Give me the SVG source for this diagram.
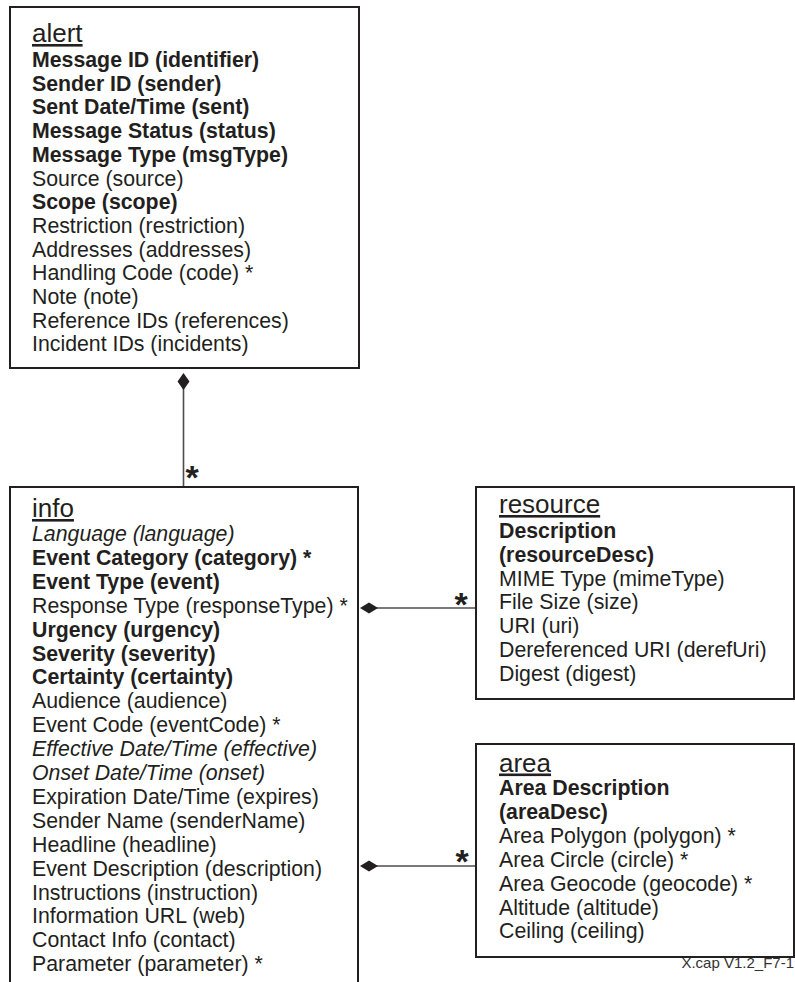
<svg xmlns="http://www.w3.org/2000/svg" width="795" height="982" viewBox="0 0 795 982">
<style>
text{font-family:"Liberation Sans",Arial,sans-serif;fill:#231f20}
.t{font-size:26px;text-decoration:underline}
.a{font-size:21.3px}
.b{font-weight:bold}
.i{font-style:italic}
.box{fill:#fff;stroke:#231f20;stroke-width:2}
.ln{fill:none;stroke:#4d4d4d;stroke-width:1.6}
.dia{fill:#231f20;stroke:none}
.st{font-size:34px;font-weight:bold;text-anchor:middle}
.ft{font-size:15px;fill:#333;text-anchor:end}
</style>
<rect width="795" height="982" fill="#fff"/>
<g id="connectors">
<line class="ln" x1="183.5" y1="388" x2="183.5" y2="487"/>
<polygon class="dia" points="183.5,373 177.5,381.5 183.5,390 189.5,381.5"/>
<text class="st" x="192" y="489">*</text>
<line class="ln" x1="376" y1="608" x2="476" y2="608"/>
<polygon class="dia" points="360,608 369,602.5 378,608 369,613.5"/>
<text class="st" x="461" y="616">*</text>
<line class="ln" x1="376" y1="866" x2="476" y2="866"/>
<polygon class="dia" points="360,866 369,860.5 378,866 369,871.5"/>
<text class="st" x="462" y="873">*</text>
</g>
<g id="alert">
<rect class="box" x="10" y="7" width="349" height="361"/>
<text class="t" x="32" y="42">alert</text>
<g class="a">
<text class="b" x="32" y="67">Message ID (identifier)</text>
<text class="b" x="32" y="90.7">Sender ID (sender)</text>
<text class="b" x="32" y="114.4">Sent Date/Time (sent)</text>
<text class="b" x="32" y="138.1">Message Status (status)</text>
<text class="b" x="32" y="161.8">Message Type (msgType)</text>
<text x="32" y="185.5">Source (source)</text>
<text class="b" x="32" y="209.2">Scope (scope)</text>
<text x="32" y="232.9">Restriction (restriction)</text>
<text x="32" y="256.6">Addresses (addresses)</text>
<text x="32" y="280.3">Handling Code (code) *</text>
<text x="32" y="304">Note (note)</text>
<text x="32" y="327.7">Reference IDs (references)</text>
<text x="32" y="351.4">Incident IDs (incidents)</text>
</g>
</g>
<g id="info">
<path class="box" d="M10,995 V487 H358 V995"/>
<text class="t" x="32" y="517">info</text>
<g class="a">
<text class="i" x="32" y="541">Language (language)</text>
<text class="b" x="32" y="564.9">Event Category (category) *</text>
<text class="b" x="32" y="588.8">Event Type (event)</text>
<text x="32" y="612.7">Response Type (responseType) *</text>
<text class="b" x="32" y="636.6">Urgency (urgency)</text>
<text class="b" x="32" y="660.5">Severity (severity)</text>
<text class="b" x="32" y="684.4">Certainty (certainty)</text>
<text x="32" y="708.3">Audience (audience)</text>
<text x="32" y="732.2">Event Code (eventCode) *</text>
<text class="i" x="32" y="756.1">Effective Date/Time (effective)</text>
<text class="i" x="32" y="780">Onset Date/Time (onset)</text>
<text x="32" y="803.9">Expiration Date/Time (expires)</text>
<text x="32" y="827.8">Sender Name (senderName)</text>
<text x="32" y="851.7">Headline (headline)</text>
<text x="32" y="875.6">Event Description (description)</text>
<text x="32" y="899.5">Instructions (instruction)</text>
<text x="32" y="923.4">Information URL (web)</text>
<text x="32" y="947.3">Contact Info (contact)</text>
<text x="32" y="971.2">Parameter (parameter) *</text>
</g>
</g>
<g id="resource">
<rect class="box" x="476" y="487" width="318" height="212"/>
<text class="t" x="499" y="513">resource</text>
<g class="a">
<text class="b" x="499" y="538">Description</text>
<text class="b" x="499" y="561.8">(resourceDesc)</text>
<text x="499" y="585.6">MIME Type (mimeType)</text>
<text x="499" y="609.4">File Size (size)</text>
<text x="499" y="633.2">URI (uri)</text>
<text x="499" y="657">Dereferenced URI (derefUri)</text>
<text x="499" y="680.8">Digest (digest)</text>
</g>
</g>
<g id="area">
<rect class="box" x="476" y="744" width="318" height="213"/>
<text class="t" x="499" y="771.5">area</text>
<g class="a">
<text class="b" x="499" y="795">Area Description</text>
<text class="b" x="499" y="818.9">(areaDesc)</text>
<text x="499" y="842.8">Area Polygon (polygon) *</text>
<text x="499" y="866.7">Area Circle (circle) *</text>
<text x="499" y="890.6">Area Geocode (geocode) *</text>
<text x="499" y="914.5">Altitude (altitude)</text>
<text x="499" y="938.4">Ceiling (ceiling)</text>
</g>
</g>
<text class="ft" x="794" y="968">X.cap V1.2_F7-1</text>
</svg>
